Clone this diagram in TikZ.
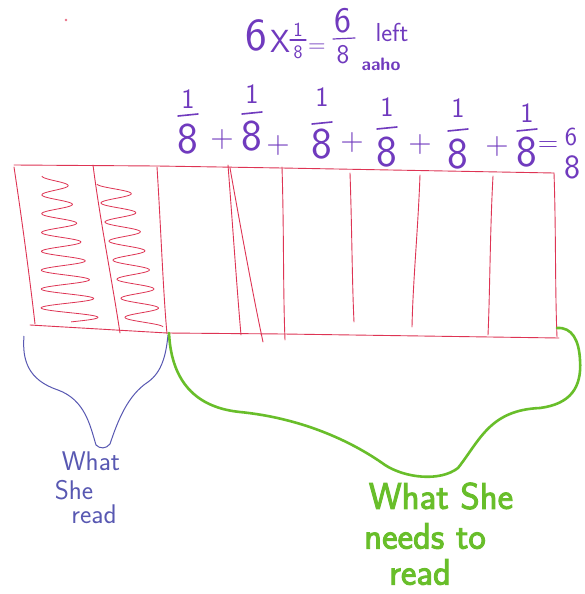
\documentclass[tikz,border=0pt]{standalone}
\usepackage{fontspec}
\setsansfont{Latin Modern Sans}
\newfontfamily\markerfont[FakeBold=2.5]{Latin Modern Sans}
\definecolor{ink}{RGB}{112,58,190}
\definecolor{pen}{RGB}{222,52,84}
\definecolor{blueink}{RGB}{88,88,178}
\definecolor{marker}{RGB}{104,190,42}
\newcommand{\fs}[1]{\fontsize{#1}{#1}\selectfont\sffamily}
\newcommand{\fm}[1]{\fontsize{#1}{#1}\selectfont\markerfont}
\tikzset{
  strip/.style={pen, line width=0.9pt, line join=round, line cap=round},
  wiggle/.style={pen, line width=0.8pt},
  txt/.style={ink, inner sep=0pt, anchor=center},
  bar/.style={ink, line width=1.6pt, line cap=round},
  readbrace/.style={blueink, line width=1pt},
  needbrace/.style={marker, line width=2.6pt, line cap=round},
  readlbl/.style={txt, text=blueink, font=\fs{27}},
  needlbl/.style={txt, text=marker, font=\fm{37}},
}
\begin{document}
\begin{tikzpicture}[x=1pt,y=-1pt]
\useasboundingbox (0,0) rectangle (585,594);
\fill[white] (0,0) rectangle (585,594);

% stray pen dot
\fill[pen!70] (66,20) circle (1.3);

% ---------- top equation: 6 x 1/8 = 6/8 left ----------
\node[txt, font=\fs{46}] (six) at (256,35) {6};
\node[txt, font=\fs{32}] (times) at (280,41) {X};
\node[txt, font=\fs{20}] (tn) at (298,30) {1};
\node[txt, font=\fs{19}] (td) at (298,52) {8};
\draw[bar, line width=1.2pt] (290,40) -- (306,40);
\node[txt, font=\fs{24}] (teq) at (317,48) {=};
\node[txt, font=\fs{36}] (rn) at (343,21) {6};
\node[txt, font=\fs{27}] (rd) at (343,55) {8};
\draw[bar, line width=1.2pt] (333,39) -- (355,38);
\node[txt, font=\fs{26}] (left) at (392,32) {left};
\node[txt, font=\fs{18}\bfseries] (scrib) at (381,64) {aaho};

% ---------- 1/8 + 1/8 + ... = 6/8 ----------
\foreach \i/\x/\ny/\by/\dy in {1/188/99/115/139, 2/252/94/113/136, 3/322/97/123/144,
                               4/387/107/128/152, 5/458/108/130/154, 6/527/113/130/152}{
  \node[txt, font=\fs{28}] (n\i) at (\x,\ny) {1};
  \node[txt, font=\fs{44}] (d\i) at (\x,\dy) {8};
  \draw[bar] (\x-10,\by+1) -- (\x+10,\by-1);
}
\foreach \i/\x/\y in {1/222/140, 2/278/146, 3/352/143, 4/420/145, 5/497/147}{
  \node[txt, font=\fs{32}] (p\i) at (\x,\y) {+};
}
\node[txt, font=\fs{28}] (eq) at (548,147) {=};
\node[txt, font=\fs{26}] (sn) at (571,137) {6};
\node[txt, font=\fs{34}] (sd) at (572,167) {8};

% ---------- the strip of eighths ----------
\coordinate (tl) at (14,165);
\coordinate (tr) at (554,173);
\coordinate (bl) at (30,325);
\coordinate (br) at (559,338);
\draw[strip] (tl) -- (157,166) -- (282,168) -- (tr);
\draw[strip] (bl) -- (167,333) -- (284,334) -- (br);
\draw[strip] (14,167) .. controls (22,220) and (30,280) .. (35,324);
\draw[strip] (tr) .. controls (556,230) and (555,290) .. (557,337);
\draw[strip] (93,165) .. controls (100,220) and (112,280) .. (120,333);
\draw[strip] (157,167) .. controls (161,230) and (163,290) .. (167,334);
\draw[strip] (228,165) .. controls (233,230) and (237,290) .. (241,335);
\draw[strip] (230,168) .. controls (241,230) and (254,300) .. (263,342);
\draw[strip] (282,167) .. controls (284,230) and (283,290) .. (285,340);
\draw[strip] (350,173) .. controls (352,230) and (352,280) .. (354,322);
\draw[strip] (420,175) .. controls (418,230) and (413,280) .. (412,327);
\draw[strip] (493,176) .. controls (490,230) and (490,290) .. (488,335);

% shading scribbles in the two eighths already read
\draw[wiggle] plot[domain=0:1, samples=300, smooth]
  ({54 + 16*\x + (12 + 17*\x)*sin(2790*\x - 90)}, {176 + 146*\x});
\draw[wiggle] plot[domain=0:1, samples=300, smooth]
  ({113 + 32*\x + (16 + 2*\x)*sin(2700*\x - 90)}, {184 + 143*\x});

% ---------- braces ----------
\coordinate (rs) at (24,336);
\coordinate (re) at (168,335);
\draw[readbrace] (rs) .. controls (22,360) and (28,380) .. (58,390)
  .. controls (85,400) and (90,425) .. (96,445)
  .. controls (100,449) and (106,449) .. (110,444)
  .. controls (118,420) and (128,395) .. (148,382)
  .. controls (162,372) and (166,355) .. (re);

\coordinate (ns) at (169,333);
\coordinate (ne) at (557,328);
\draw[needbrace] (ns) .. controls (171,375) and (190,407) .. (240,412)
  .. controls (300,418) and (350,440) .. (385,465)
  .. controls (405,478) and (440,482) .. (458,468)
  .. controls (480,440) and (490,410) .. (540,408)
  .. controls (570,404) and (582,388) .. (580,360)
  .. controls (579,340) and (572,327) .. (ne);

% ---------- labels ----------
\node[readlbl] (rl1) at (91,461) {What};
\node[readlbl] (rl2) at (74,490) {She};
\node[readlbl] (rl3) at (94,514) {read};
\node[needlbl] (nl1) at (441,496) {What She};
\node[needlbl] (nl2) at (425,536) {needs to};
\node[needlbl] (nl3) at (420,572) {read};
\end{tikzpicture}
\end{document}
